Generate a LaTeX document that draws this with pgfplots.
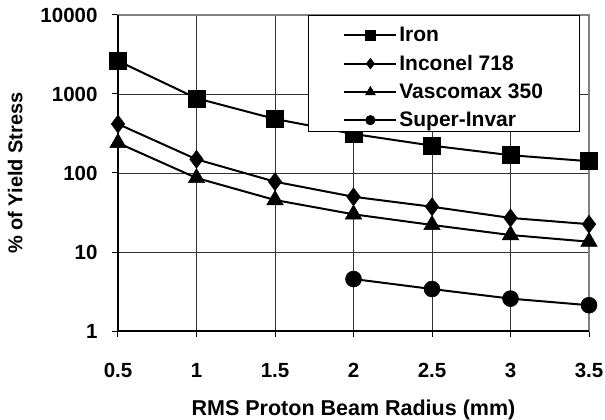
\documentclass[border=0pt]{standalone}
\usepackage{fontspec}
\setmainfont{Liberation Sans}
\usepackage{pgfplots}
\pgfplotsset{compat=1.18}
\pgfplotsset{
  stdimg/.style={legend image code/.code={\draw[mark repeat=2,mark phase=2,##1,/tikz/every mark/.append style={scale=0.6}] plot coordinates {(0bp,0bp) (26bp,0bp) (52bp,0bp)};}},
  ironimg/.style={legend image code/.code={\draw[yshift=-4bp,mark repeat=2,mark phase=2,##1,/tikz/every mark/.append style={scale=0.6}] plot coordinates {(0bp,0bp) (26bp,0bp) (52bp,0bp)};}},
}
\begin{document}
\begin{tikzpicture}
\useasboundingbox (-118bp,-89bp) rectangle (487bp,331bp);
\begin{axis}[
  scale only axis, width=471bp, height=316bp,
  ymode=log, xmin=0.5, xmax=3.5, ymin=1, ymax=10000,
  xtick={0.5,1,1.5,2,2.5,3,3.5}, xticklabels={0.5,1,1.5,2,2.5,3,3.5},
  ytick={1,10,100,1000,10000}, yticklabels={1,10,100,1000,10000},
  yminorticks=false,
  grid=major, major grid style={black!80, line width=0.7bp},
  axis line style={draw=black!50, line width=1.5bp},
  tick align=outside, xtick pos=left, ytick pos=left,
  major tick length=6bp, tick style={black, line width=1bp},
  ticklabel style={font=\fontsize{20.5bp}{24bp}\selectfont\bfseries},
  xticklabel style={yshift=-23bp},
  yticklabel style={xshift=-11bp},
  xlabel={RMS Proton Beam Radius (mm)},
  ylabel={\% of Yield Stress},
  xlabel style={yshift=-15bp, font=\fontsize{21.5bp}{24bp}\selectfont\bfseries},
  ylabel style={yshift=11bp, font=\fontsize{20bp}{24bp}\selectfont\bfseries},
  clip=false,
  stdimg,
  legend style={at={(1,1)}, anchor=north east, xshift=-9bp, draw=black, line width=1bp, fill=white,
    font=\fontsize{21bp}{24bp}\selectfont\bfseries, inner xsep=34.5bp, inner ysep=1bp,
    row sep=8bp, cells={anchor=west}},
  legend cell align=left,
  after end axis/.code={\draw[black,line width=2.2bp] (rel axis cs:0,1) -- (rel axis cs:0,0) -- (rel axis cs:1,0);},
]
\addplot[black, line width=2bp, mark=square*, mark size=8.5bp, mark options={solid, fill=black, line width=0.5bp}, ironimg] coordinates {
 (0.5,2620) (1,883) (1.5,483) (2,312) (2.5,222) (3,168) (3.5,141)};
\addlegendentry{\rule{0pt}{23.3bp}Iron}
\addplot[black, line width=2bp, mark=diamond*, mark size=9bp, mark options={solid, fill=black, line width=0.5bp}] coordinates {
 (0.5,417) (1,149) (1.5,77.6) (2,50) (2.5,37.4) (3,27) (3.5,22.5)};
\addlegendentry{Inconel 718}
\addplot[black, line width=2bp, mark=triangle*, mark size=9.5bp, mark options={solid, fill=black, line width=0.5bp}] coordinates {
 (0.5,240) (1,86.5) (1.5,45.5) (2,30) (2.5,22) (3,16.4) (3.5,13.5)};
\addlegendentry{Vascomax 350}
\addplot[black, line width=2bp, mark=*, mark size=8bp, mark options={solid, fill=black, line width=0.5bp}] coordinates {
 (2,4.55) (2.5,3.4) (3,2.57) (3.5,2.12)};
\addlegendentry{Super-Invar}
\end{axis}
\end{tikzpicture}
\end{document}
